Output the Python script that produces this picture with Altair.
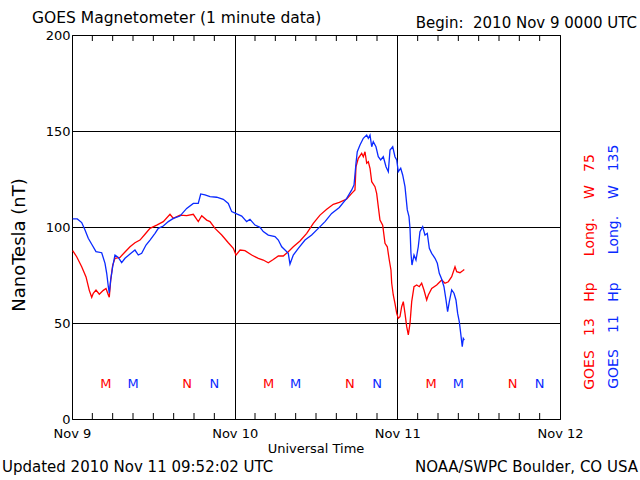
import altair as alt
import pandas as pd

# ---- data (hours since 2010 Nov 9 00:00 UTC, nT) ----
g13_hours = [0.1, 0.69, 1.43, 2.07, 2.55, 2.91, 3.14, 3.54, 4.03, 4.62, 5.02, 5.36, 5.5, 5.71, 6.0, 6.34,
             7.08, 7.82, 8.56, 9.29, 10.03, 10.77, 11.51, 12.5, 13.47, 14.46, 14.95, 15.93, 16.92, 17.9,
             18.63, 19.14, 19.87, 20.36, 21.1, 22.09, 23.06, 23.8, 24.2, 24.79, 25.52, 26.51, 27.49,
             28.22, 28.96, 29.7, 30.44, 31.17, 31.91, 32.65, 33.64, 34.63, 35.6, 36.59, 37.58, 38.55,
             39.44, 40.53, 41.27, 41.75, 41.9, 42.24, 42.74, 42.98, 43.23, 43.48, 43.72, 43.97, 44.22,
             44.7, 44.95, 45.19, 45.44, 45.84, 46.18, 46.52, 46.81, 47.06, 47.17, 47.4, 47.65, 47.91,
             48.14, 48.39, 48.64, 48.88, 49.13, 49.38, 49.62, 49.87, 50.12, 50.46, 50.86, 51.24, 51.59,
             51.93, 52.33, 52.57, 53.07, 53.81, 54.55, 55.03, 55.52, 56.02, 56.51, 56.76, 57.24, 57.64,
             57.88]
g13_values = [87.7, 84.5, 79.3, 74.0, 67.0, 63.4, 65.5, 67.2, 65.0, 67.0, 68.0, 64.6, 63.4, 72.4, 80.0, 83.7,
              84.2, 87.0, 89.7, 91.8, 93.2, 96.2, 99.3, 101.0, 102.8, 106.6, 104.5, 106.2, 105.9, 106.6,
              102.8, 105.9, 103.6, 102.8, 99.3, 95.8, 91.8, 88.9, 85.4, 88.0, 87.7, 85.4, 83.7,
              82.8, 81.4, 83.1, 84.9, 84.9, 87.1, 89.7, 92.7, 96.7, 101.9, 106.2, 109.2, 111.8,
              112.8, 114.6, 117.5, 119.3, 131.4, 135.8, 138.4, 136.6, 139.2, 133.2, 134.0, 130.6, 123.6,
              121.0, 117.5, 110.6, 103.6, 101.0, 91.5, 89.7, 82.8, 77.6, 70.7, 64.6, 60.2, 55.0,
              52.4, 53.3, 58.5, 61.1, 55.0, 48.1, 43.8, 49.8, 61.1, 68.9, 69.8, 68.9, 70.7,
              67.2, 62.0, 64.6, 68.0, 69.8, 72.4, 70.7, 71.5, 74.1, 79.3, 76.7, 76.2, 77.2,
              77.9]

g11_hours = [0.1, 0.78, 1.43, 1.92, 2.4, 2.91, 3.54, 4.38, 4.87, 5.12, 5.36, 5.5, 5.71, 6.0, 6.34, 6.83,
             7.33, 7.82, 8.56, 9.29, 9.78, 10.28, 10.92, 11.51, 12.25, 12.73, 13.47, 14.21, 14.95, 15.93,
             16.92, 17.9, 18.63, 18.99, 19.62, 20.36, 21.35, 22.32, 23.06, 23.56, 24.3, 25.04, 25.77,
             26.26, 27.0, 27.74, 28.22, 28.96, 29.95, 30.44, 30.94, 31.43, 31.91, 32.16, 32.65, 33.39,
             34.38, 35.36, 36.34, 37.33, 38.31, 39.44, 40.53, 41.27, 41.61, 41.9, 42.09, 42.49, 42.98,
             43.48, 43.72, 43.97, 44.22, 44.45, 44.85, 45.19, 45.54, 45.93, 46.33, 46.67, 46.92, 47.32,
             47.65, 47.91, 48.14, 48.5, 48.79, 49.13, 49.47, 49.72, 49.87, 50.01, 50.16, 50.46, 50.75,
             51.09, 51.34, 51.74, 52.08, 52.42, 52.72, 53.07, 53.56, 53.9, 54.19, 54.55, 54.88, 55.18,
             55.42, 55.67, 56.02, 56.36, 56.65, 56.9, 57.14, 57.35, 57.58, 57.73, 57.88]
g11_values = [104.2, 104.2, 102.3, 98.4, 94.1, 91.0, 87.2, 86.6, 81.1, 75.9, 68.9, 65.5, 72.4, 79.3, 85.4, 84.2,
              81.4, 83.7, 85.9, 88.0, 85.4, 86.3, 90.6, 93.2, 96.7, 99.3, 100.5, 102.8, 104.5, 105.7,
              109.7, 112.3, 112.3, 117.2, 116.7, 115.8, 115.5, 114.4, 112.3, 108.0, 106.8, 105.7, 102.8,
              104.0, 101.0, 99.8, 97.6, 95.8, 95.0, 93.2, 89.7, 88.0, 86.3, 80.7, 85.4, 88.9,
              93.2, 95.8, 99.3, 102.8, 107.1, 110.2, 114.9, 119.3, 121.9, 133.2, 139.2, 142.7, 146.2,
              147.9, 146.2, 147.9, 141.8, 144.4, 141.8, 136.6, 134.9, 136.6, 131.4, 128.8, 140.1, 141.8,
              136.6, 134.9, 128.8, 130.6, 127.1, 121.0, 108.9, 105.4, 99.3, 86.3, 80.2, 85.4, 82.8,
              89.7, 97.6, 100.2, 95.8, 96.7, 88.9, 86.3, 83.7, 81.1, 75.9, 72.8, 68.9, 62.0,
              55.9, 61.1, 67.2, 65.5, 62.0, 55.0, 50.7, 44.6, 37.7, 42.0, 41.1]

# local midnight (M) / noon (N) markers
marker_hours = [5, 17, 29, 41, 53, 65, 9, 21, 33, 45, 57, 69]
marker_labels = ["M", "N", "M", "N", "M", "N", "M", "N", "M", "N", "M", "N"]
marker_sats = ["GOES 13"] * 6 + ["GOES 11"] * 6
marker_level = 18

x_label_hours = [0, 24, 48, 72]
x_label_names = ["Nov 9", "Nov 10", "Nov 11", "Nov 12"]
minor_tick_hours = [h for h in range(3, 72, 3) if h % 24 != 0]
y_ticks = [0, 50, 100, 150, 200]

RED = "#ff0000"
BLUE = "#0a2aff"
FONT = "DejaVu Sans"

lines_df = pd.concat([
    pd.DataFrame({"hour": g13_hours, "nT": g13_values, "sat": "GOES 13"}),
    pd.DataFrame({"hour": g11_hours, "nT": g11_values, "sat": "GOES 11"}),
])
markers_df = pd.DataFrame({"hour": marker_hours, "nT": marker_level, "lab": marker_labels, "sat": marker_sats})
ticks_df = pd.DataFrame({"hour": minor_tick_hours})

xscale = alt.Scale(domain=[0, 72], nice=False, zero=False)
yscale = alt.Scale(domain=[0, 200], nice=False)
cscale = alt.Scale(domain=["GOES 13", "GOES 11"], range=[RED, BLUE])

label_map = ",".join(f"'{h}':'{n}'" for h, n in zip(x_label_hours, x_label_names))
label_expr = "{" + label_map + "}[toString(datum.value)]"

x_axis = alt.Axis(values=x_label_hours, labelExpr=label_expr, title=None, grid=True, gridColor="black",
                  gridOpacity=1, gridWidth=1, tickSize=0, domain=False, labelFont=FONT, labelFontSize=13,
                  labelColor="black", labelPadding=8, labelFlush=False, labelOverlap=False)
y_axis = alt.Axis(values=y_ticks, title=None, grid=True, gridColor="black", gridOpacity=1, gridWidth=1,
                  tickSize=0, domain=False, labelFont=FONT, labelFontSize=13, labelColor="black",
                  labelPadding=2)

lines = alt.Chart(lines_df).mark_line(strokeWidth=1.3, interpolate="linear").encode(
    x=alt.X("hour:Q", scale=xscale, axis=x_axis),
    y=alt.Y("nT:Q", scale=yscale, axis=y_axis),
    color=alt.Color("sat:N", scale=cscale, legend=None),
    detail="sat:N",
)

markers = alt.Chart(markers_df).mark_text(font=FONT, fontSize=13).encode(
    x=alt.X("hour:Q", scale=xscale),
    y=alt.Y("nT:Q", scale=yscale),
    text="lab:N",
    color=alt.Color("sat:N", scale=cscale, legend=None),
)

bottom_ticks = alt.Chart(ticks_df).mark_rule(color="black", strokeWidth=1).encode(
    x=alt.X("hour:Q", scale=xscale), y=alt.value(384), y2=alt.value(378))
top_ticks = alt.Chart(ticks_df).mark_rule(color="black", strokeWidth=1).encode(
    x=alt.X("hour:Q", scale=xscale), y=alt.value(0), y2=alt.value(6))


def label(txt, x, y, size=13, align="center", color="black", angle=0):
    kw = dict(font=FONT, fontSize=size, align=align, baseline="middle", color=color, text=txt)
    if angle:
        kw["angle"] = angle
    return alt.Chart(alt.Data(values=[{}])).mark_text(**kw).encode(x=alt.value(x), y=alt.value(y))


texts = [
    label("GOES Magnetometer (1 minute data)", -40, -17, size=15.5, align="left"),
    label("Begin:\u00a0 2010 Nov 9 0000 UTC", 565, -12, size=15, align="right"),
    label("Updated 2010 Nov 11 09:52:02 UTC", -70, 432, size=15, align="left"),
    label("NOAA/SWPC Boulder, CO USA", 566, 432, size=15, align="right"),
    label("Universal Time", 244, 414, size=13),
    label("NanoTesla (nT)", -52, 210, size=18, angle=270),
]
red_words = [("GOES", 370), ("13", 327), ("Hp", 292), ("Long.", 237), ("W", 192), ("75", 163)]
blue_words = [("GOES", 369), ("11", 324), ("Hp", 292), ("Long.", 235), ("W", 192), ("135", 158)]
for w, py in red_words:
    texts.append(label(w, 518, py - 35, size=14, color=RED, angle=270))
for w, py in blue_words:
    texts.append(label(w, 542, py - 35, size=14, color=BLUE, angle=270))

chart = alt.layer(lines, markers, bottom_ticks, top_ticks, *texts).properties(
    width=488, height=384,
    autosize=alt.AutoSizeParams(type="none"),
    padding={"left": 72, "top": 35, "right": 80, "bottom": 61},
    background="white",
).configure_view(stroke="black", strokeWidth=1)

chart.save("out.html", embed_options={"renderer": "svg", "actions": False})
